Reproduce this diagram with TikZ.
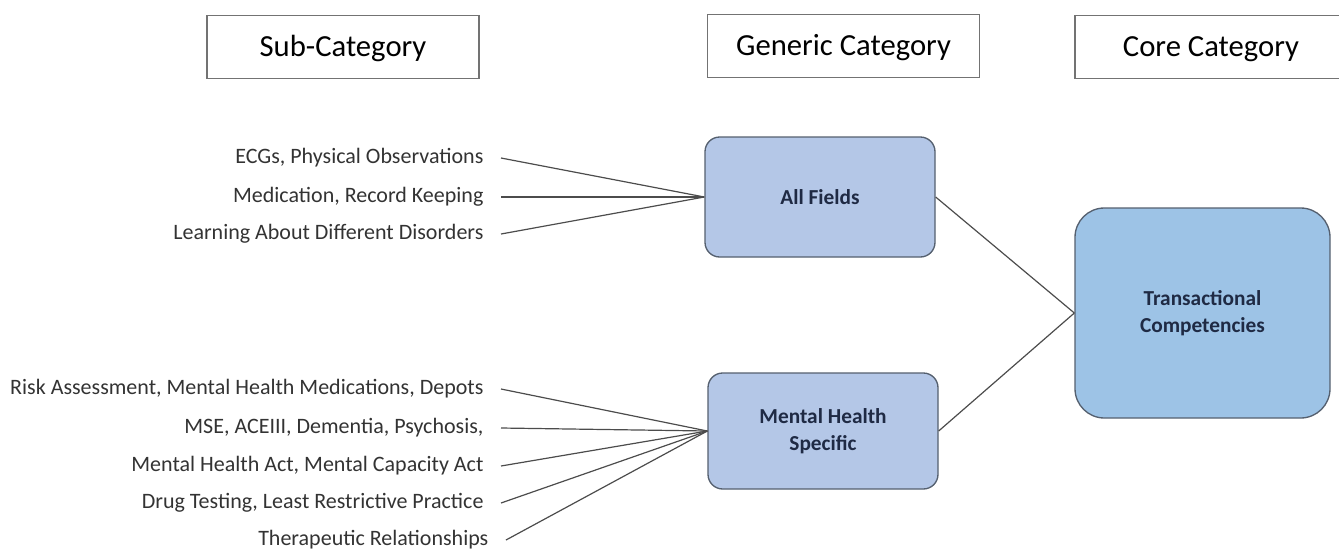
\documentclass[tikz,border=0pt]{standalone}
\usepackage{fontspec}
\setmainfont{Carlito}
\usepackage{tikz}
\usetikzlibrary{positioning}

\definecolor{genfill}{HTML}{B4C7E7}
\definecolor{corefill}{HTML}{9DC3E6}
\definecolor{boxline}{HTML}{55606F}
\definecolor{boxtext}{HTML}{1F2A44}
\definecolor{labtext}{HTML}{333333}

\tikzset{
	headbox/.style={draw=black!55, line width=1.2pt, minimum width=204pt, minimum height=47.25pt, text height=14.8pt, text depth=0pt, font=\fontsize{23}{27}\selectfont},
	genbox/.style={draw=boxline, line width=1pt, fill=genfill, rounded corners=11pt, minimum width=172.5pt, font=\fontsize{16}{20.5}\selectfont\bfseries, text=boxtext, align=center},
	sublab/.style={anchor=east, inner xsep=13pt, font=\fontsize{16.5}{19}\selectfont, text=labtext},
	link/.style={draw=black!70, line width=0.9pt}
}

\begin{document}
\begin{tikzpicture}[x=0.75pt,y=-0.75pt]
	\useasboundingbox (0,0) rectangle (1339,551);
	
	\node[headbox] (sub) at (343,47) {Sub-Category};
	\node[headbox] (gen) at (843.5,46) {Generic Category};
	\node[headbox] (core) at (1211,47) {Core Category};
	
	\node[genbox,minimum height=90pt] (fields) at (820,197) {All Fields};
	\node[genbox,minimum height=87pt] (mhs) at (823,431) {Mental Health\\Specific};
	\node[genbox,fill=corefill,rounded corners=22pt,minimum width=191.25pt,minimum height=157.5pt] (trans) at (1202.5,313) {Transactional\\Competencies};
	
	\node[sublab] (a1) at (501,158) {ECGs, Physical Observations};
	\node[sublab] (a2) at (501,197) {Medication, Record Keeping};
	\node[sublab] (a3) at (501,234) {Learning About Different Disorders};
	
	\node[sublab] (b1) at (501,389) {Risk Assessment, Mental Health Medications, Depots};
	\node[sublab] (b2) at (501,428) {MSE, ACEIII, Dementia, Psychosis,};
	\node[sublab] (b3) at (501,466) {Mental Health Act, Mental Capacity Act};
	\node[sublab] (b4) at (501,503) {Drug Testing, Least Restrictive Practice};
	\node[sublab] (b5) at (506,540) {Therapeutic Relationships};
	
	\foreach \n in {a1,a2,a3}
		\path[link] (\n.east) -- (fields.west);
	\foreach \n in {b1,b2,b3,b4,b5}
		\path[link] (\n.east) -- (mhs.west);
	
	\path[link] (fields.east) -- (trans.west);
	\path[link] (mhs.east) -- (trans.west);
	
\end{tikzpicture}
\end{document}
